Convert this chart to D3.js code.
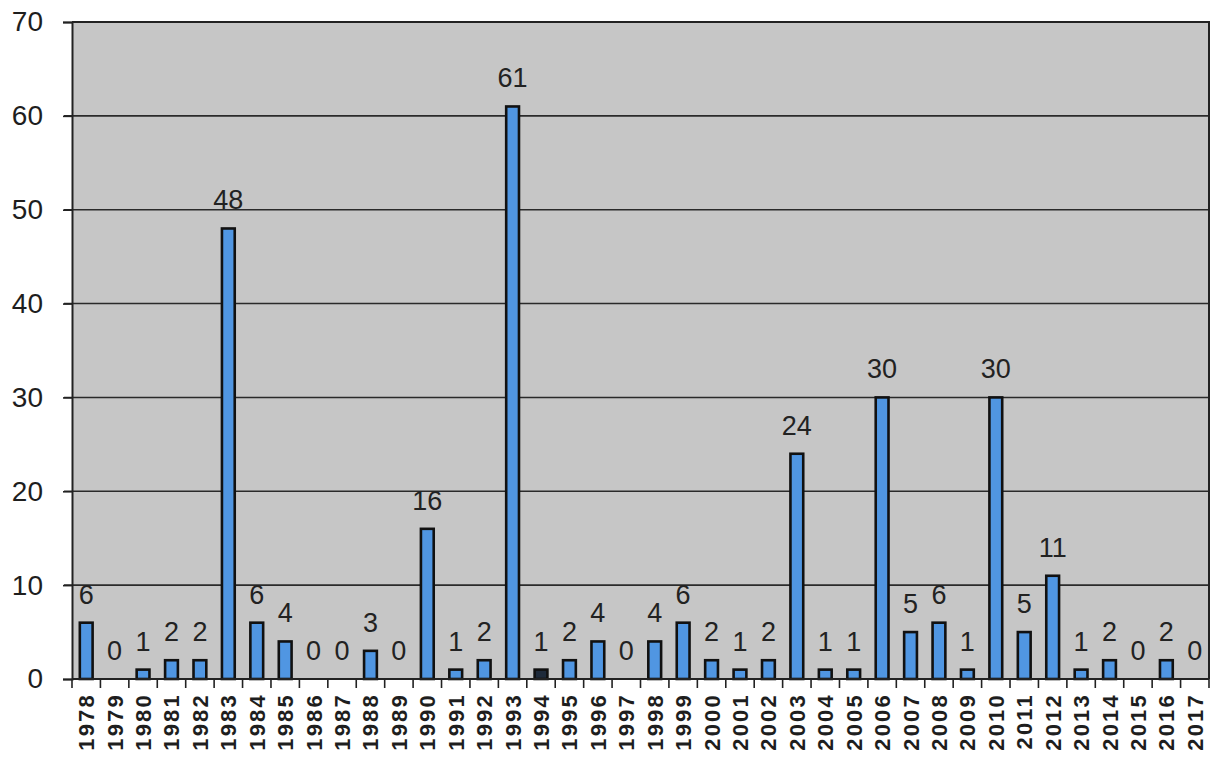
<!DOCTYPE html>
<html><head><meta charset="utf-8">
<script src="https://cdn.jsdelivr.net/npm/d3@7"></script>
<style>body{margin:0;background:#fff}svg{display:block}</style>
</head><body><svg id="c" width="1221" height="760"></svg>
<script>
const years = ["1978","1979","1980","1981","1982","1983","1984","1985","1986","1987","1988","1989","1990","1991","1992","1993","1994","1995","1996","1997","1998","1999","2000","2001","2002","2003","2004","2005","2006","2007","2008","2009","2010","2011","2012","2013","2014","2015","2016","2017"];
const counts = [6,0,1,2,2,48,6,4,0,0,3,0,16,1,2,61,1,2,4,0,4,6,2,1,2,24,1,1,30,5,6,1,30,5,11,1,2,0,2,0];
const yTicks = [0,10,20,30,40,50,60,70];

const svg = d3.select("#c");
const L = 72, R = 1209, T = 22, B = 679;
const x = d3.scaleBand().domain(years).range([L, R]).paddingInner(0.55).paddingOuter(0.275);
const y = d3.scaleLinear().domain([0, 70]).range([B, T]);
const font = "'Liberation Sans', Arial, sans-serif";

svg.append("rect").attr("x", L).attr("y", T).attr("width", R - L).attr("height", B - T)
  .attr("fill", "#c6c6c6");

// gridlines
svg.append("g").selectAll("line").data(yTicks.slice(1, -1)).join("line")
  .attr("x1", L - 8).attr("x2", R).attr("y1", d => y(d)).attr("y2", d => y(d))
  .attr("stroke", "#2a2a2a").attr("stroke-width", 1.6);

// y axis
const ya = svg.append("g").attr("transform", `translate(${L},0)`)
  .call(d3.axisLeft(y).tickValues(yTicks).tickSize(9).tickPadding(20));
ya.select(".domain").attr("stroke", "#222").attr("stroke-width", 2);
ya.selectAll(".tick line").attr("stroke", "#222").attr("stroke-width", 1.6);
ya.selectAll("text").attr("font-family", font).attr("font-size", 28).attr("fill", "#1e1e1e");

// top and right border
svg.append("path").attr("d", `M${L},${T}H${R}V${B}`).attr("fill", "none")
  .attr("stroke", "#222").attr("stroke-width", 2);

// bars
svg.append("g").selectAll("rect").data(years).join("rect")
  .attr("x", d => x(d)).attr("width", x.bandwidth())
  .attr("y", (d, i) => y(counts[i])).attr("height", (d, i) => B - y(counts[i]))
  .attr("fill", (d, i) => d === "1994" ? "#1e2a3a" : "#5096e2")
  .attr("stroke", "#111").attr("stroke-width", 2.6);

// x axis
const xa = svg.append("g");
xa.append("line").attr("x1", L).attr("x2", R).attr("y1", B).attr("y2", B)
  .attr("stroke", "#222").attr("stroke-width", 2);
xa.selectAll("line.t").data(d3.range(years.length + 1)).join("line").attr("class", "t")
  .attr("x1", i => L + i * (R - L) / years.length).attr("x2", i => L + i * (R - L) / years.length)
  .attr("y1", B).attr("y2", B + 9).attr("stroke", "#222").attr("stroke-width", 1.6);
xa.selectAll("text").data(years).join("text")
  .attr("transform", d => `translate(${x(d) + x.bandwidth() / 2 + 8},${693}) rotate(-90)`)
  .attr("text-anchor", "end").attr("font-family", font).attr("font-size", 22)
  .attr("font-weight", "bold").attr("letter-spacing", 2.2).attr("fill", "#1e1e1e")
  .text(d => d);

// value labels
svg.append("g").selectAll("text").data(years).join("text")
  .attr("x", d => x(d) + x.bandwidth() / 2).attr("y", (d, i) => y(counts[i]) - 19)
  .attr("text-anchor", "middle").attr("font-family", font).attr("font-size", 27)
  .attr("fill", "#222").text((d, i) => counts[i]);
</script></body></html>
